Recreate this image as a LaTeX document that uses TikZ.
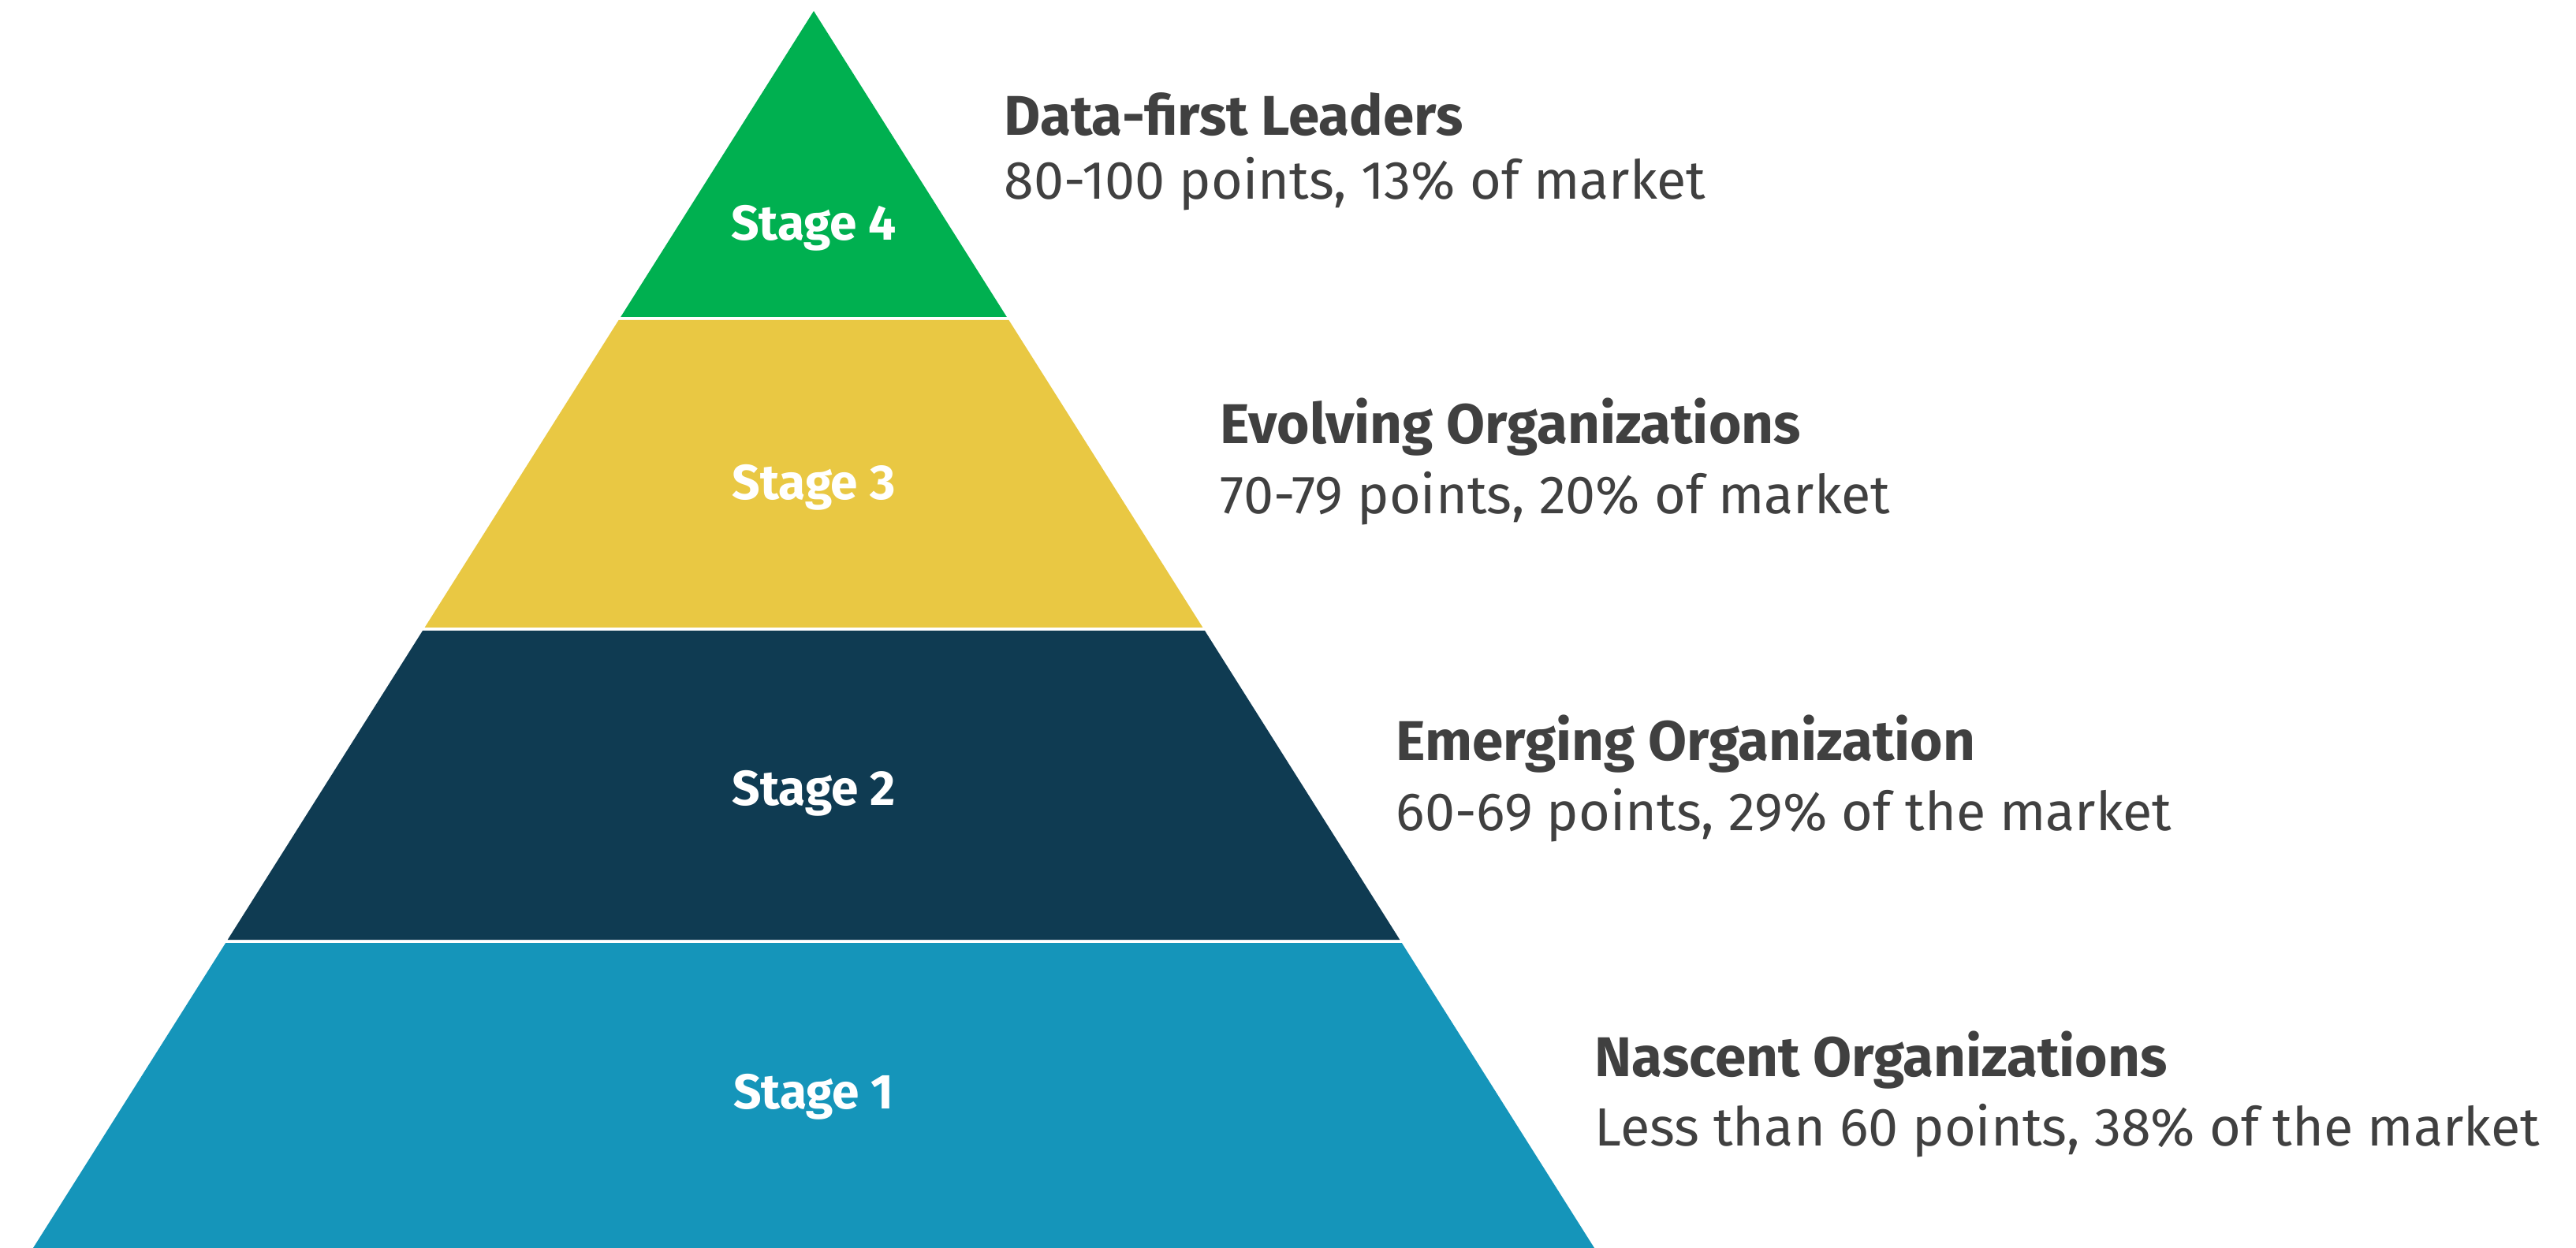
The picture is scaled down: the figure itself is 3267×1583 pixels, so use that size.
\documentclass[tikz,border=0pt]{standalone}
\usepackage{fontspec}
\setmainfont{Fira Sans}
\usetikzlibrary{positioning}
\definecolor{stagegreen}{HTML}{00B050}
\definecolor{stageyellow}{HTML}{E9C843}
\definecolor{stagenavy}{HTML}{0F3B52}
\definecolor{stageteal}{HTML}{1595BA}
\definecolor{textgray}{HTML}{404040}
\tikzstyle{stage} = [anchor=base, 
inner sep=0pt, 
text=white, 
font=\fontsize{17.7}{20}\selectfont\bfseries]
\tikzstyle{title} = [anchor=base west, 
inner sep=0pt, 
text=textgray, 
font=\fontsize{20.2}{24}\selectfont\bfseries]
\tikzstyle{info} = [anchor=base west, 
inner sep=0pt, 
text=textgray, 
font=\fontsize{19.4}{23}\selectfont]

\begin{document}
\begin{tikzpicture}[x=0.01cm, y=-0.01cm]
\useasboundingbox (0,0) rectangle (3267,1583);

% pyramid bands, top to bottom
\fill[stagegreen] (1032,14) -- (1276.8,402) -- (787.2,402) -- cycle;
\fill[stageyellow] (784.6,406) -- (1279.4,406) -- (1525.4,796) -- (538.6,796) -- cycle;
\fill[stagenavy] (536,800) -- (1528,800) -- (1775.3,1192) -- (288.7,1192) -- cycle;
\fill[stageteal] (286.2,1196) -- (1777.8,1196) -- (2022,1583) -- (42,1583) -- cycle;

\node (s4) [stage] at (1032,305) {Stage 4};
\node (s3) [stage] at (1032,634) {Stage 3};
\node (s2) [stage] at (1032,1022) {Stage 2};
\node (s1) [stage] at (1032,1406) {Stage 1};

\node (t4) [title] at (1273,172) {Data-first Leaders};
\node (i4) [info] at (1273,253) {80-100 points, 13\% of market};
\node (t3) [title] at (1547,563) {Evolving Organizations};
\node (i3) [info] at (1547,652) {70-79 points, 20\% of market};
\node (t2) [title] at (1770,965) {Emerging Organization};
\node (i2) [info] at (1770,1054) {60-69 points, 29\% of the market};
\node (t1) [title] at (2022,1365) {Nascent Organizations};
\node (i1) [info] at (2022,1453) {Less than 60 points, 38\% of the market};

\end{tikzpicture}
\end{document}
